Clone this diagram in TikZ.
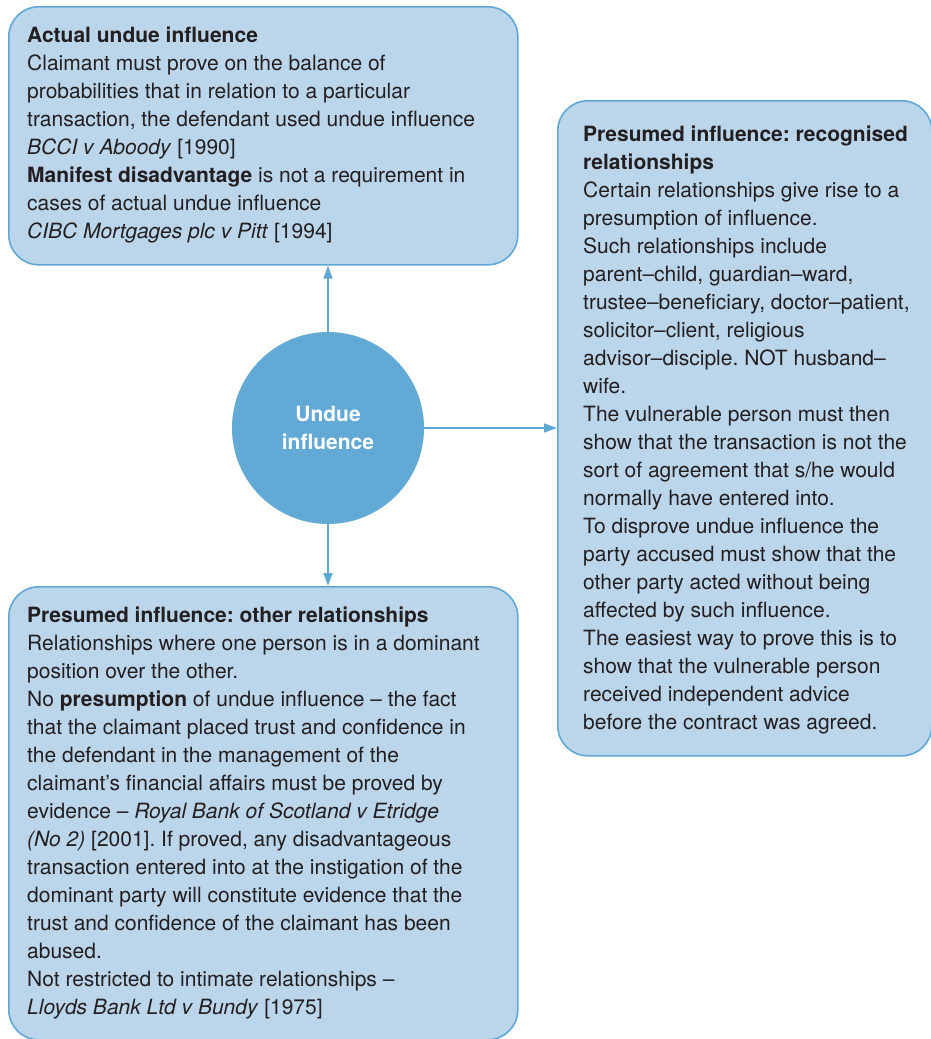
\documentclass[tikz,border=0pt]{standalone}
\usepackage{fontspec}
\setmainfont{TeX Gyre Heros}
\usetikzlibrary{arrows.meta}
\frenchspacing
\definecolor{boxfill}{HTML}{BBD5EB}
\definecolor{boxline}{HTML}{5FA8D6}
\definecolor{hubfill}{HTML}{62A9D6}
\definecolor{ink}{HTML}{231F20}
\tikzset{
  infobox/.style={draw=boxline, line width=1.6pt, fill=boxfill, rounded corners=30pt,
    anchor=north west, inner sep=0pt},
  boxtext/.style={anchor=west, align=left, text=ink, inner sep=0pt,
    font=\fontsize{21}{28}\selectfont},
  hub/.style={circle, fill=hubfill, minimum size=192pt, inner sep=0pt, align=center,
    text=white, font=\fontsize{21}{28}\selectfont\bfseries},
  link/.style={draw=boxline, line width=1.6pt, -{Triangle[length=13pt,width=9pt]}}
}
\begin{document}
\begin{tikzpicture}[x=1pt,y=-1pt]
\useasboundingbox (0,0) rectangle (930,1039);

% the three text panels
\node[infobox, minimum width=509pt, minimum height=258pt] (actual) at (8,6) {};
\node[infobox, minimum width=374pt, minimum height=655pt] (recog) at (557,100) {};
\node[infobox, minimum width=509pt, minimum height=453pt] (other) at (8,586) {};

\node[boxtext] (actualtxt) at ([xshift=19pt,yshift=0.5pt]actual.west)
{\textbf{Actual undue influence}\\
Claimant must prove on the balance of\\
probabilities that in relation to a particular\\
transaction, the defendant used undue influence\\
\textit{BCCI v Aboody} [1990]\\
\textbf{Manifest disadvantage} is not a requirement in\\
cases of actual undue influence\\
\textit{CIBC Mortgages plc v Pitt} [1994]};

\node[boxtext] (recogtxt) at ([xshift=26pt,yshift=-2pt]recog.west)
{\textbf{Presumed influence: recognised}\\
\textbf{relationships}\\
Certain relationships give rise to a\\
presumption of influence.\\
Such relationships include\\
parent–child, guardian–ward,\\
trustee–beneficiary, doctor–patient,\\
solicitor–client, religious\\
advisor–disciple. NOT husband–\\
wife.\\
The vulnerable person must then\\
show that the transaction is not the\\
sort of agreement that s/he would\\
normally have entered into.\\
To disprove undue influence the\\
party accused must show that the\\
other party acted without being\\
affected by such influence.\\
The easiest way to prove this is to\\
show that the vulnerable person\\
received independent advice\\
before the contract was agreed.};

\node[boxtext] (othertxt) at ([xshift=19pt]other.west)
{\textbf{Presumed influence: other relationships}\\
Relationships where one person is in a dominant\\
position over the other.\\
No \textbf{presumption} of undue influence – the fact\\
that the claimant placed trust and confidence in\\
the defendant in the management of the\\
claimant’s financial affairs must be proved by\\
evidence – \textit{Royal Bank of Scotland v Etridge}\\
\textit{(No 2)} [2001]. If proved, any disadvantageous\\
transaction entered into at the instigation of the\\
dominant party will constitute evidence that the\\
trust and confidence of the claimant has been\\
abused.\\
Not restricted to intimate relationships –\\
\textit{Lloyds Bank Ltd v Bundy} [1975]};

% central hub and its connectors
\node[hub] (undue) at (328,428) {Undue\\influence};

\draw[link] (undue.north) -- (undue.north |- actual.south);
\draw[link] (undue.east) -- (undue.east -| recog.west);
\draw[link] (undue.south) -- (undue.south |- other.north);
\end{tikzpicture}
\end{document}
